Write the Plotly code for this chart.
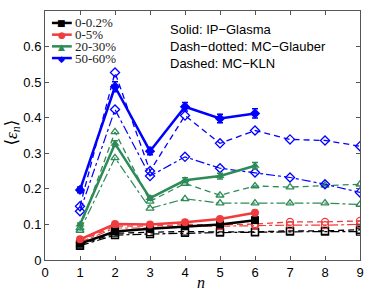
import plotly.graph_objects as go

n_ip = [1, 2, 3, 4, 5, 6]
n_mc = [1, 2, 3, 4, 5, 6, 7, 8, 9]

labels = ["0-0.2%", "0-5%", "20-30%", "50-60%"]
colors = ["#000000", "#f03c3c", "#2e8b57", "#0000ff"]
sym_filled = ["square", "circle", "triangle-up", "diamond"]
sym_open = ["square-open", "circle-open", "triangle-up-open", "diamond-open"]
legend_glyphs = ["\u25a0", "\u25cf", "\u25b2", "\u25c6"]

# IP-Glasma (solid)
ip_vals = [
    [0.046, 0.080, 0.088, 0.095, 0.100, 0.112],
    [0.058, 0.101, 0.100, 0.106, 0.115, 0.133],
    [0.100, 0.327, 0.174, 0.224, 0.236, 0.265],
    [0.197, 0.487, 0.306, 0.431, 0.398, 0.412],
]
ip_err = [
    [0.003, 0.003, 0.003, 0.003, 0.004, 0.004],
    [0.003, 0.004, 0.004, 0.004, 0.005, 0.006],
    [0.004, 0.008, 0.006, 0.007, 0.008, 0.009],
    [0.008, 0.014, 0.010, 0.012, 0.012, 0.013],
]
# MC-Glauber (dash-dotted)
gl_vals = [
    [0.040, 0.070, 0.073, 0.076, 0.077, 0.078, 0.080, 0.080, 0.080],
    [0.050, 0.090, 0.090, 0.095, 0.095, 0.097, 0.098, 0.098, 0.100],
    [0.083, 0.287, 0.145, 0.172, 0.160, 0.160, 0.160, 0.160, 0.156],
    [0.137, 0.423, 0.236, 0.290, 0.258, 0.246, 0.232, 0.213, 0.190],
]
# MC-KLN (dashed)
kln_vals = [
    [0.043, 0.075, 0.078, 0.080, 0.079, 0.079, 0.082, 0.082, 0.085],
    [0.054, 0.095, 0.095, 0.100, 0.099, 0.101, 0.107, 0.107, 0.110],
    [0.090, 0.360, 0.165, 0.215, 0.182, 0.208, 0.205, 0.210, 0.213],
    [0.151, 0.527, 0.250, 0.406, 0.328, 0.364, 0.339, 0.336, 0.320],
]

x_ticks = [0, 1, 2, 3, 4, 5, 6, 7, 8, 9]
y_ticks = [0, 0.1, 0.2, 0.3, 0.4, 0.5, 0.6]
y_ticktext = ["0", "0.1", "0.2", "0.3", "0.4", "0.5", "0.6"]

SERIF = "Liberation Serif, DejaVu Serif, serif"
SANS = "Liberation Sans, Arial, sans-serif"

fig = go.Figure()

for i in range(4):
    fig.add_trace(go.Scatter(
        x=n_mc, y=gl_vals[i], mode="lines+markers", showlegend=False,
        line=dict(color=colors[i], width=1.2, dash="dashdot"),
        marker=dict(symbol=sym_open[i], size=7, color=colors[i], line=dict(width=1.3, color=colors[i])),
    ))
    fig.add_trace(go.Scatter(
        x=n_mc, y=kln_vals[i], mode="lines+markers", showlegend=False,
        line=dict(color=colors[i], width=1.3, dash="6px,4px"),
        marker=dict(symbol=sym_open[i], size=7, color=colors[i], line=dict(width=1.3, color=colors[i])),
    ))

for i in range(4):
    fig.add_trace(go.Scatter(
        x=n_ip, y=ip_vals[i], mode="lines+markers", name=labels[i], showlegend=False,
        line=dict(color=colors[i], width=2.5),
        marker=dict(symbol=sym_filled[i], size=8, color=colors[i]),
        error_y=dict(type="data", array=ip_err[i], color=colors[i], thickness=1.5, width=3),
    ))

# compact legend (top-left, inside the axes)
for i in range(4):
    yy = 0.952 - i * 0.047
    fig.add_shape(type="line", xref="paper", yref="paper", x0=0.022, x1=0.085, y0=yy, y1=yy,
                  line=dict(color=colors[i], width=2.5))
    fig.add_annotation(x=0.0535, y=yy, xref="paper", yref="paper", text=legend_glyphs[i],
                       showarrow=False, xanchor="center", yanchor="middle", height=11,
                       borderpad=0, font=dict(family="DejaVu Sans", size=9, color=colors[i]))
    fig.add_annotation(x=0.092, y=yy, xref="paper", yref="paper", text=labels[i],
                       showarrow=False, xanchor="left", yanchor="middle", height=11,
                       borderpad=0, valign="middle",
                       font=dict(family=SERIF, size=13, color="#222"))

notes = ["Solid: IP\u2212Glasma", "Dash\u2212dotted: MC\u2212Glauber", "Dashed: MC\u2212KLN"]
for k, t in enumerate(notes):
    fig.add_annotation(x=0.39, y=0.925 - k * 0.068, xref="paper", yref="paper",
                       text=t, showarrow=False, xanchor="left", yanchor="middle",
                       font=dict(family=SANS, size=13, color="black"))

# axis titles
fig.add_annotation(x=0.495, y=-0.092, xref="paper", yref="paper", text="<i>n</i>",
                   showarrow=False, xanchor="center", yanchor="middle", borderpad=0,
                   font=dict(family=SERIF, size=16, color="black"))
fig.add_annotation(x=-0.103, y=0.51, xref="paper", yref="paper",
                   text="\u27e8<i>\u03b5<sub>n</sub></i>\u27e9", textangle=-90,
                   showarrow=False, xanchor="center", yanchor="middle",
                   font=dict(family=SERIF, size=17, color="black"))

axis_common = dict(showgrid=False, zeroline=False, showline=True, mirror="ticks",
                   linecolor="#555555", linewidth=1, ticks="inside", ticklen=4,
                   tickcolor="#555555",
                   tickfont=dict(family=SANS, size=13, color="black"))

fig.update_layout(
    width=374, height=290,
    margin=dict(l=45, r=10, t=10, b=29),
    paper_bgcolor="white", plot_bgcolor="white",
    showlegend=False,
    xaxis=dict(range=[0, 9], tickvals=x_ticks, **axis_common),
    yaxis=dict(range=[0, 0.7], tickvals=y_ticks, ticktext=y_ticktext, **axis_common),
)

fig.write_html("out.html", config={"displayModeBar": False},
               post_script="document.body.style.margin='0';document.body.style.padding='0';")
